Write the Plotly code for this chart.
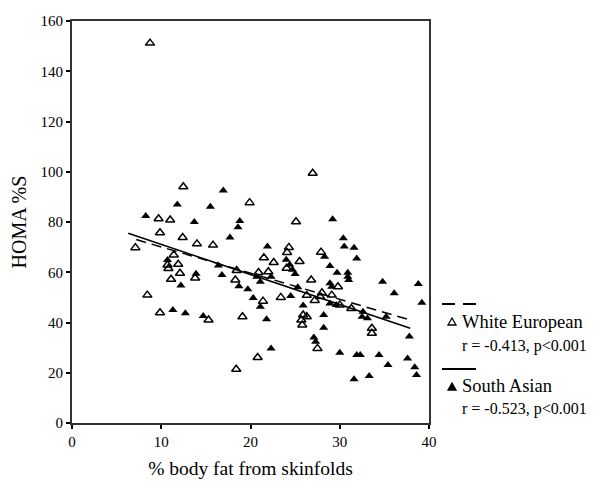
import plotly.graph_objects as go

# White European (open triangles): % body fat, HOMA %S
we_fat = [8.74, 12.47, 9.7, 11.0, 9.86, 12.4, 14.0, 7.1, 11.4, 10.7, 10.8, 11.9,
          12.1, 13.8, 11.1, 8.44, 9.86, 15.3, 26.97, 19.9, 25.1, 15.8, 24.3, 21.5,
          24.1, 22.6, 24.05, 18.45, 18.3, 20.9, 22.0, 26.8, 27.9, 21.4, 23.4, 26.3,
          27.2, 25.9, 25.7, 25.8, 26.3, 19.1, 20.8, 18.4, 27.5, 29.8, 28.0, 27.8,
          29.1, 30.0, 31.3, 33.6, 33.6, 25.5]
we_homa = [151.2, 94.0, 81.3, 80.8, 75.7, 73.8, 71.3, 69.8, 66.9, 62.9, 61.5, 63.2,
           59.6, 57.7, 57.2, 50.9, 43.9, 41.0, 99.4, 87.7, 80.1, 70.8, 69.9, 65.8,
           67.9, 63.9, 61.6, 60.7, 56.9, 59.9, 60.2, 56.9, 68.0, 48.5, 50.0, 50.8,
           48.8, 43.0, 41.0, 39.0, 42.3, 42.3, 26.1, 21.4, 29.7, 54.2, 51.8, 50.3,
           50.9, 47.0, 45.6, 37.7, 35.7, 64.3]

# South Asian (filled triangles)
sa_fat = [11.8, 8.26, 13.7, 10.7, 13.9, 12.2, 11.3, 12.7, 16.95, 15.5, 18.8, 18.6,
          17.7, 21.9, 24.0, 24.4, 24.7, 25.0, 16.4, 16.8, 18.7, 19.7, 20.7, 21.1,
          22.3, 25.3, 20.3, 21.1, 24.5, 25.9, 14.7, 21.8, 22.3, 27.1, 27.3, 28.9,
          29.1, 31.0, 34.8, 38.8, 36.1, 39.2, 28.9, 29.6, 32.6, 32.5, 33.1, 35.2,
          28.2, 28.2, 37.8, 30.0, 31.9, 32.3, 34.4, 35.4, 37.6, 38.4, 38.6, 31.6,
          33.3, 29.2, 30.4, 30.5, 31.6, 31.9, 28.3, 28.9, 29.7, 30.9, 30.9]
sa_homa = [87.0, 82.4, 80.0, 64.9, 59.4, 54.7, 45.0, 43.7, 92.5, 86.1, 80.4, 77.9,
           73.8, 70.2, 65.0, 63.0, 61.0, 59.3, 62.7, 58.9, 54.4, 53.2, 58.2, 56.2,
           58.2, 54.0, 49.8, 46.3, 50.5, 46.8, 42.6, 41.3, 29.7, 34.0, 32.3, 55.6,
           54.2, 56.9, 56.2, 55.3, 51.6, 47.9, 47.6, 47.0, 44.3, 42.3, 41.7, 42.3,
           43.0, 37.9, 34.4, 28.0, 27.1, 27.1, 27.1, 23.1, 25.7, 22.2, 19.1, 17.4,
           18.7, 81.1, 73.5, 70.2, 69.8, 65.5, 66.2, 62.5, 59.8, 59.8, 58.2]

# Fitted regression lines (end points)
we_fit_x = [7.2, 37.9]
we_fit_y = [73.0, 41.0]
sa_fit_x = [6.3, 37.9]
sa_fit_y = [75.5, 37.7]

x_ticks = [0, 10, 20, 30, 40]
y_ticks = [0, 20, 40, 60, 80, 100, 120, 140, 160]

FONT = "Liberation Serif"

fig = go.Figure()
fig.add_trace(go.Scatter(x=we_fat, y=we_homa, mode="markers",
                         marker=dict(symbol="triangle-up-open", size=8, color="black",
                                     line=dict(width=1.5, color="black")),
                         showlegend=False))
fig.add_trace(go.Scatter(x=sa_fat, y=sa_homa, mode="markers",
                         marker=dict(symbol="triangle-up", size=8, color="black"),
                         showlegend=False))
fig.add_trace(go.Scatter(x=we_fit_x, y=we_fit_y, mode="lines",
                         line=dict(color="black", width=1.5, dash="10px,6px"),
                         showlegend=False))
fig.add_trace(go.Scatter(x=sa_fit_x, y=sa_fit_y, mode="lines",
                         line=dict(color="black", width=1.5),
                         showlegend=False))

axis_common = dict(showline=True, linecolor="#333", linewidth=2, mirror=True,
                   ticks="outside", ticklen=4, tickwidth=2, tickcolor="black",
                   showgrid=False, zeroline=False, automargin=False,
                   tickfont=dict(family=FONT, size=15, color="black"))
fig.update_xaxes(range=[0, 40], tickvals=x_ticks, **axis_common,
                 title=dict(text="% body fat from skinfolds",
                            font=dict(family=FONT, size=19.5, color="black"), standoff=12))
fig.update_yaxes(range=[0, 160], tickvals=y_ticks, **axis_common,
                 title=dict(text="HOMA %S",
                            font=dict(family=FONT, size=20, color="black"), standoff=14))

# Legend (drawn in paper coordinates at right of plot)
W, H = 357.0, 402.0
def px(x):
    return (x - 72) / W
def py(y):
    return (423 - y) / H

shapes = []
# dashed key
shapes.append(dict(type="line", xref="paper", yref="paper", x0=px(442), x1=px(455), y0=py(304), y1=py(304),
                   line=dict(color="black", width=2)))
shapes.append(dict(type="line", xref="paper", yref="paper", x0=px(463), x1=px(476), y0=py(304), y1=py(304),
                   line=dict(color="black", width=2)))
# solid key
shapes.append(dict(type="line", xref="paper", yref="paper", x0=px(442), x1=px(476), y0=py(369), y1=py(369),
                   line=dict(color="black", width=2)))
# triangles
def tri(cx, cy, fill):
    path = (f"M {px(cx-4)} {py(cy+3)} L {px(cx+4)} {py(cy+3)} L {px(cx)} {py(cy-4)} Z")
    return dict(type="path", xref="paper", yref="paper", path=path,
                fillcolor="black" if fill else "white", line=dict(color="black", width=1.3))
shapes.append(tri(452, 322, False))
shapes.append(tri(452, 387, True))

ann = []
def txt(t, x, y, size):
    ann.append(dict(text=t, xref="paper", yref="paper", x=px(x), y=py(y), xanchor="left",
                    yanchor="middle", showarrow=False, borderpad=0,
                    font=dict(family=FONT, size=size, color="black")))
txt("White European", 461, 322, 18.5)
txt("r = -0.413, p&lt;0.001", 461, 346, 16)
txt("South Asian", 461, 386, 18.5)
txt("r = -0.523, p&lt;0.001", 461, 409, 16)

# page body has an 8px margin: compensate so the plot area lands at the reference position
fig.update_layout(width=587, height=478, margin=dict(l=64, r=166, t=13, b=63),
                  paper_bgcolor="white", plot_bgcolor="white",
                  shapes=shapes, annotations=ann)

fig.write_html("out.html")
